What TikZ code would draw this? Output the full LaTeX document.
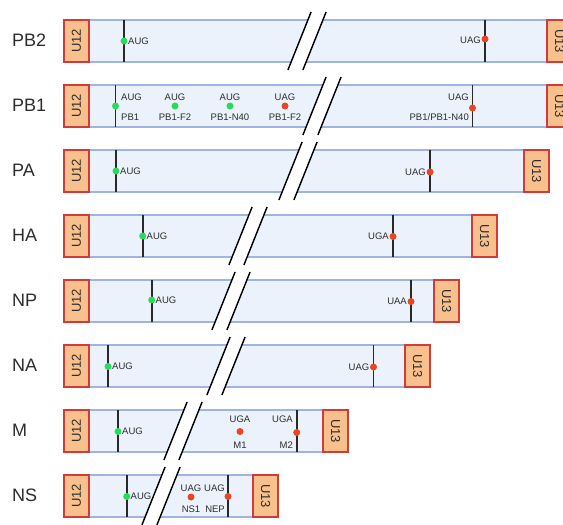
\documentclass[tikz,border=0pt]{standalone}
\usepackage{fontspec}
\setmainfont{Liberation Sans}
\definecolor{barfill}{RGB}{235,242,251}
\definecolor{barline}{RGB}{160,180,225}
\definecolor{ufill}{RGB}{247,192,140}
\definecolor{uline}{RGB}{208,60,55}
\definecolor{dotg}{RGB}{40,220,90}
\definecolor{dotr}{RGB}{235,70,35}
\definecolor{txt}{RGB}{45,45,45}
\tikzset{
  ubox/.style={draw=uline, fill=ufill, line width=1.8pt, minimum width=42pt, minimum height=25pt, inner sep=0pt, text=txt, font=\fontsize{13}{13}\selectfont},
  rowlabel/.style={anchor=west, inner sep=0pt, text=txt, font=\fontsize{18}{18}\selectfont},
  lbl/.style={inner sep=0pt, text=txt, font=\fontsize{9.5}{10}\selectfont},
  orfline/.style={draw={rgb,255:red,40;green,40;blue,40}, line width=1.8pt},
  brkline/.style={draw=black, line width=1.4pt},
  bordline/.style={draw=barline, line width=1.5pt},
}
% #1 yc, #2 label, #3 u13 left x, #4 break mid x, #5 name
\newcommand\segrow[5]{%
  \fill[barfill] (64,#1-21) rectangle (#3+25,#1+21);
  \draw[bordline] (64,#1-21) -- (#3+25,#1-21);
  \draw[bordline] (64,#1+21) -- (#3+25,#1+21);
  \fill[white] (#4-7.5+11.6,#1-29) -- (#4+7.5+11.6,#1-29) -- (#4+7.5-11.6,#1+29) -- (#4-7.5-11.6,#1+29) -- cycle;
  \draw[brkline] (#4-7.5+11.6,#1-29) -- (#4-7.5-11.6,#1+29);
  \draw[brkline] (#4+7.5+11.6,#1-29) -- (#4+7.5-11.6,#1+29);
  \node[rowlabel] (#5-name) at (12,#1-1) {#2};
  \node[ubox, rotate=90] (#5-u12) at (76.5,#1) {U12};
  \node[ubox, rotate=-90] (#5-u13) at (#3+12.5,#1) {U13};
}
\newcommand\orf[2]{\draw[orfline] (#1,#2-21) -- (#1,#2+21);}
\newcommand\gdot[2]{\fill[dotg] (#1,#2) circle (3.5);}
\newcommand\rdot[2]{\fill[dotr] (#1,#2) circle (3.5);}
\begin{document}
\begin{tikzpicture}[x=1pt,y=-1pt]
\clip (0,0) rectangle (563,525);
\fill[white] (0,0) rectangle (563,525);
\segrow{41}{PB2}{547}{307}{pbtwo}
\segrow{106}{PB1}{547}{322}{pbone}
\segrow{171}{PA}{524}{298}{pa}
\segrow{236}{HA}{472}{248}{ha}
\segrow{301}{NP}{434}{231}{np}
\segrow{366}{NA}{405}{226}{na}
\segrow{431}{M}{323}{183}{m}
\segrow{496}{NS}{253}{161}{ns}
% PB2
\orf{124}{41}\gdot{124}{41}
\node[lbl, anchor=west] (pbtwo-aug) at (128,41) {AUG};
\orf{485}{41}\rdot{485}{39}
\node[lbl, anchor=east] (pbtwo-uag) at (481,40) {UAG};
% PB1
\orf{115.5}{106}\gdot{115.5}{106}
\node[lbl, anchor=west] (pbone-aug) at (121,97) {AUG};
\node[lbl, anchor=west] (pbone-pb1) at (121,117.5) {PB1};
\gdot{175}{106}
\node[lbl] (pbone-aug2) at (175,97) {AUG};
\node[lbl] (pbone-f2) at (175,117.5) {PB1-F2};
\gdot{230}{106}
\node[lbl] (pbone-aug3) at (230,97) {AUG};
\node[lbl] (pbone-n40) at (230,117.5) {PB1-N40};
\rdot{285}{106}
\node[lbl] (pbone-uag) at (285,97) {UAG};
\node[lbl] (pbone-f2b) at (285,117.5) {PB1-F2};
\orf{472.5}{106}\rdot{472.5}{108}
\node[lbl, anchor=east] (pbone-uag2) at (469,97) {UAG};
\node[lbl, anchor=east] (pbone-n40b) at (469,117.5) {PB1/PB1-N40};
% PA
\orf{116}{171}\gdot{116}{171}
\node[lbl, anchor=west] (pa-aug) at (120,171) {AUG};
\orf{430}{171}\rdot{430}{172}
\node[lbl, anchor=east] (pa-uag) at (426,172) {UAG};
% HA
\orf{142.7}{236}\gdot{142.7}{236}
\node[lbl, anchor=west] (ha-aug) at (146.5,236) {AUG};
\orf{393}{236}\rdot{393}{236.5}
\node[lbl, anchor=east] (ha-uga) at (389,236.5) {UGA};
% NP
\orf{151.7}{301}\gdot{151.7}{300}
\node[lbl, anchor=west] (np-aug) at (155.5,300) {AUG};
\orf{411}{301}\rdot{411}{301.5}
\node[lbl, anchor=east] (np-uaa) at (407,301.5) {UAA};
% NA
\orf{108}{366}\gdot{108}{366.5}
\node[lbl, anchor=west] (na-aug) at (112,366.5) {AUG};
\orf{373.5}{366}\rdot{373.5}{367}
\node[lbl, anchor=east] (na-uag) at (369.5,367) {UAG};
% M
\orf{118}{431}\gdot{118}{431.5}
\node[lbl, anchor=west] (m-aug) at (122,431.5) {AUG};
\rdot{240}{431.5}
\node[lbl] (m-uga) at (240,419.5) {UGA};
\node[lbl] (m-m1) at (240,445) {M1};
\orf{296.7}{431}\rdot{296.7}{432.5}
\node[lbl, anchor=east] (m-uga2) at (293,419.5) {UGA};
\node[lbl, anchor=east] (m-m2) at (293,445) {M2};
% NS
\orf{126.7}{496}\gdot{126.7}{496.5}
\node[lbl, anchor=west] (ns-aug) at (130.5,496.5) {AUG};
\rdot{191}{497}
\node[lbl] (ns-uag) at (191,488) {UAG};
\node[lbl] (ns-ns1) at (191,509.5) {NS1};
\orf{228}{496}\rdot{228}{496.5}
\node[lbl, anchor=east] (ns-uag2) at (225,488) {UAG};
\node[lbl, anchor=east] (ns-nep) at (225,509) {NEP};
\end{tikzpicture}
\end{document}
